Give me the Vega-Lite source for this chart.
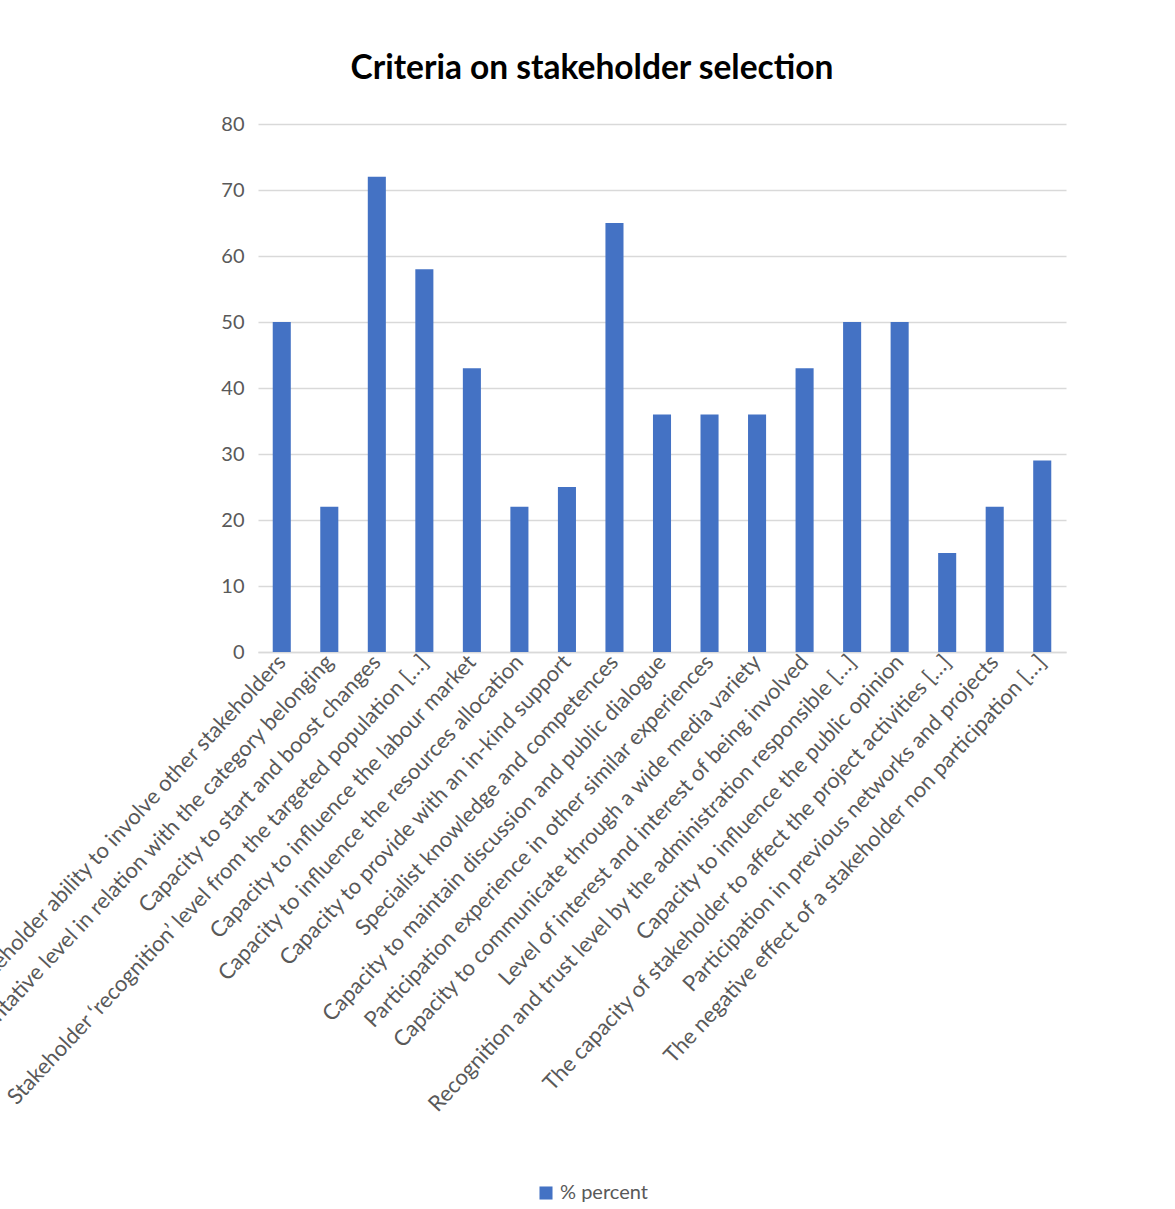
{
  "$schema": "https://vega.github.io/schema/vega-lite/v6.json",
  "autosize": "none",
  "width": 808,
  "height": 528,
  "padding": {"left": 258, "top": 124, "right": 109, "bottom": 557},
  "background": "white",
  "title": {
    "text": "Criteria on stakeholder selection",
    "font": "Lato",
    "fontSize": 33.5,
    "fontWeight": "bold",
    "color": "#000000",
    "anchor": "middle",
    "dx": -70,
    "offset": 28
  },
  "data": {
    "values": [
      {"criterion": "Stakeholder ability to involve other stakeholders", "percent": 50, "series": "% percent"},
      {"criterion": "Representative level in relation with the category belonging", "percent": 22, "series": "% percent"},
      {"criterion": "Capacity to start and boost changes", "percent": 72, "series": "% percent"},
      {"criterion": "Stakeholder ‘recognition’ level from the targeted population […]", "percent": 58, "series": "% percent"},
      {"criterion": "Capacity to influence the labour market", "percent": 43, "series": "% percent"},
      {"criterion": "Capacity to influence the resources allocation", "percent": 22, "series": "% percent"},
      {"criterion": "Capacity to provide with an in-kind support", "percent": 25, "series": "% percent"},
      {"criterion": "Specialist knowledge and competences", "percent": 65, "series": "% percent"},
      {"criterion": "Capacity to maintain discussion and public dialogue", "percent": 36, "series": "% percent"},
      {"criterion": "Participation experience in other similar experiences", "percent": 36, "series": "% percent"},
      {"criterion": "Capacity to communicate through a wide media variety", "percent": 36, "series": "% percent"},
      {"criterion": "Level of interest and interest of being involved", "percent": 43, "series": "% percent"},
      {"criterion": "Recognition and trust level by the administration responsible […]", "percent": 50, "series": "% percent"},
      {"criterion": "Capacity to influence the public opinion", "percent": 50, "series": "% percent"},
      {"criterion": "The capacity of stakeholder to affect the project activities […]", "percent": 15, "series": "% percent"},
      {"criterion": "Participation in previous networks and projects", "percent": 22, "series": "% percent"},
      {"criterion": "The negative effect of a stakeholder non participation […]", "percent": 29, "series": "% percent"}
    ]
  },
  "mark": {"type": "bar"},
  "encoding": {
    "x": {
      "field": "criterion",
      "type": "nominal",
      "sort": null,
      "scale": {"paddingInner": 0.62, "paddingOuter": 0.31},
      "axis": {
        "title": null,
        "labelAngle": -47,
        "labelAlign": "right",
        "labelBaseline": "middle",
        "labelFont": "Lato",
        "labelFontSize": 21.9,
        "labelColor": "#595959",
        "labelLimit": 0,
        "labelPadding": 6,
        "labelOffset": 0,
        "ticks": false,
        "domainColor": "#D9D9D9",
        "domainWidth": 1.5,
        "grid": false
      }
    },
    "y": {
      "field": "percent",
      "type": "quantitative",
      "scale": {"domain": [0, 80]},
      "axis": {
        "title": null,
        "values": [0, 10, 20, 30, 40, 50, 60, 70, 80],
        "labelFont": "Lato",
        "labelFontSize": 20,
        "labelColor": "#595959",
        "labelPadding": 14,
        "ticks": false,
        "domain": false,
        "gridColor": "#D9D9D9",
        "gridWidth": 1.5
      }
    },
    "color": {
      "field": "series",
      "type": "nominal",
      "scale": {"range": ["#4472C4"]},
      "legend": {
        "title": null,
        "orient": "none",
        "legendX": 278,
        "legendY": 1059,
        "symbolType": "square",
        "symbolSize": 170,
        "symbolStrokeWidth": 0,
        "labelFont": "Lato",
        "labelFontSize": 20,
        "labelColor": "#595959",
        "direction": "horizontal"
      }
    }
  },
  "config": {"view": {"stroke": null}}
}
